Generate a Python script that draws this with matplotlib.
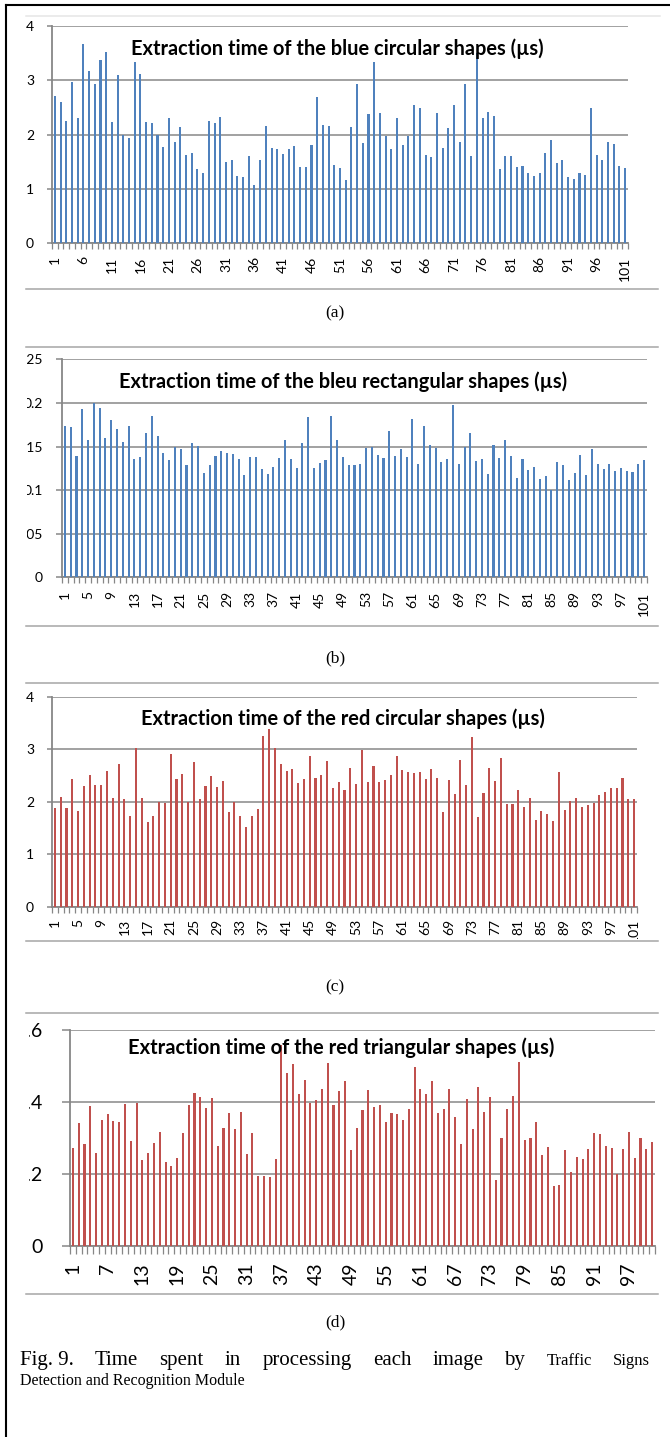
import numpy as np
import matplotlib
matplotlib.use("Agg")
import matplotlib.pyplot as plt
from matplotlib.lines import Line2D
from matplotlib.transforms import Bbox, TransformedBbox

plt.rcParams['font.family'] = ['Lato', 'DejaVu Sans']

W, H = 670, 1437

image_ids = list(range(1, 102))

blue_circular = [2.71, 2.60, 2.26, 2.96, 2.31, 3.66, 3.17, 2.93, 3.37, 3.52,
                 2.23, 3.09, 1.99, 1.93, 3.33, 3.12, 2.23, 2.21, 1.99, 1.77,
                 2.30, 1.87, 2.15, 1.63, 1.67, 1.36, 1.29, 2.25, 2.22, 2.33,
                 1.49, 1.53, 1.23, 1.22, 1.60, 1.08, 1.54, 2.16, 1.75, 1.73,
                 1.65, 1.74, 1.80, 1.41, 1.40, 1.81, 2.70, 2.18, 2.16, 1.44,
                 1.38, 1.17, 2.14, 2.93, 1.85, 2.38, 3.33, 2.40, 1.98, 1.73,
                 2.31, 1.81, 1.98, 2.54, 2.49, 1.62, 1.58, 2.40, 1.75, 2.13,
                 2.54, 1.87, 2.94, 1.61, 3.50, 2.30, 2.42, 2.34, 1.37, 1.60,
                 1.60, 1.40, 1.42, 1.29, 1.23, 1.29, 1.66, 1.90, 1.48, 1.53,
                 1.22, 1.19, 1.29, 1.26, 2.49, 1.63, 1.53, 1.87, 1.83, 1.42, 1.38]

blue_rectangular = [0.173, 0.1725, 0.139, 0.1935, 0.158, 0.200, 0.1947, 0.160, 0.180, 0.1706,
                    0.1546, 0.173, 0.136, 0.1385, 0.165, 0.1855, 0.162, 0.143, 0.135, 0.150,
                    0.147, 0.129, 0.154, 0.151, 0.120, 0.129, 0.139, 0.145, 0.143, 0.1416,
                    0.136, 0.1175, 0.1385, 0.1385, 0.1237, 0.118, 0.1267, 0.137, 0.157, 0.136,
                    0.1256, 0.154, 0.1836, 0.1256, 0.131, 0.134, 0.1855, 0.158, 0.1378, 0.129,
                    0.129, 0.1305, 0.1485, 0.150, 0.1405, 0.1366, 0.1676, 0.139, 0.147, 0.1378,
                    0.1817, 0.1305, 0.1737, 0.1515, 0.1485, 0.1317, 0.136, 0.1977, 0.1305, 0.150,
                    0.165, 0.1336, 0.136, 0.118, 0.1515, 0.1366, 0.158, 0.139, 0.1137, 0.136,
                    0.1225, 0.126, 0.1126, 0.1156, 0.0996, 0.1324, 0.129, 0.1115, 0.1195, 0.1405,
                    0.1175, 0.1477, 0.1298, 0.1237, 0.1298, 0.1214, 0.1256, 0.1214, 0.1206, 0.1305, 0.1347]

red_circular = [1.886, 2.095, 1.886, 2.427, 1.829, 2.30, 2.51, 2.31, 2.31, 2.585,
                2.065, 2.71, 2.06, 1.73, 3.02, 2.076, 1.62, 1.733, 1.994, 1.97,
                2.90, 2.427, 2.53, 2.0, 2.76, 2.057, 2.30, 2.495, 2.28, 2.39,
                1.80, 2.0, 1.73, 1.52, 1.73, 1.87, 3.25, 3.39, 3.02, 2.72,
                2.59, 2.62, 2.36, 2.43, 2.87, 2.45, 2.50, 2.77, 2.27, 2.37,
                2.23, 2.64, 2.34, 2.99, 2.37, 2.68, 2.37, 2.42, 2.51, 2.87,
                2.60, 2.57, 2.55, 2.56, 2.43, 2.62, 2.45, 1.80, 2.41, 2.15,
                2.79, 2.31, 3.24, 1.70, 2.16, 2.65, 2.40, 2.83, 1.96, 1.96,
                2.22, 1.89, 2.08, 1.66, 1.83, 1.77, 1.64, 2.57, 1.85, 2.01,
                2.08, 1.89, 1.94, 1.97, 2.13, 2.18, 2.27, 2.27, 2.45, 2.06, 2.06]

red_triangular = [0.271, 0.340, 0.283, 0.389, 0.258, 0.349, 0.365, 0.346, 0.345, 0.395,
                  0.290, 0.398, 0.238, 0.258, 0.286, 0.315, 0.233, 0.222, 0.244, 0.314,
                  0.391, 0.425, 0.413, 0.384, 0.412, 0.278, 0.327, 0.370, 0.326, 0.372,
                  0.255, 0.313, 0.194, 0.194, 0.190, 0.242, 0.558, 0.480, 0.506, 0.421,
                  0.461, 0.398, 0.405, 0.436, 0.509, 0.391, 0.430, 0.458, 0.266, 0.328,
                  0.378, 0.432, 0.386, 0.391, 0.344, 0.370, 0.365, 0.350, 0.380, 0.497,
                  0.435, 0.422, 0.457, 0.369, 0.379, 0.436, 0.357, 0.283, 0.407, 0.326,
                  0.441, 0.373, 0.414, 0.183, 0.299, 0.381, 0.416, 0.511, 0.295, 0.299,
                  0.344, 0.252, 0.275, 0.166, 0.168, 0.267, 0.205, 0.247, 0.242, 0.269,
                  0.313, 0.310, 0.277, 0.272, 0.199, 0.269, 0.315, 0.243, 0.299, 0.270, 0.288]

titles = ["Extraction time of the blue circular shapes (\u00b5s)",
          "Extraction time of the bleu rectangular shapes (\u00b5s)",
          "Extraction time of the red circular shapes (\u00b5s)",
          "Extraction time of the red triangular shapes (\u00b5s)"]

yticks_a = [0, 1, 2, 3, 4]
yticks_b = [0, 0.05, 0.1, 0.15, 0.2, 0.25]
yticks_d = [0, 0.2, 0.4, 0.6]
ylabels_a = ['0', '1', '2', '3', '4']
ylabels_b = ['0', '0.05', '0.1', '0.15', '0.2', '0.25']
ylabels_d = ['0', '0.2', '0.4', '0.6']

sub_labels = ['(a)', '(b)', '(c)', '(d)']
caption_words = ['Fig. 9.', 'Time', 'spent', 'in', 'processing', 'each', 'image', 'by', 'Traffic', 'Signs']
caption_line2 = 'Detection and Recognition Module'

BLUE = '#4F81BD'
RED = '#C0504D'
GRID = '#878787'
PT = 72 / 100  # pixels -> points

fig = plt.figure(figsize=(W / 100, H / 100), dpi=100)
renderer = fig.canvas.get_renderer()


def px_rect(left, top, right, bottom):
    return [left / W, 1 - bottom / H, (right - left) / W, (bottom - top) / H]


def hline(y, x0, x1, color, lw=1.1):
    fig.add_artist(Line2D([x0 / W, x1 / W], [1 - y / H, 1 - y / H], color=color, lw=lw))


def clip_texts(texts, x0=0, y_bottom=H):
    box = TransformedBbox(Bbox.from_extents(x0 / W, 1 - y_bottom / H, 1, 1), fig.transFigure)
    for t in texts:
        t.set_clip_box(box)
        t.set_clip_on(True)


def fit_width(t, target_px):
    w = t.get_window_extent(renderer).width
    t.set_fontsize(t.get_fontsize() * target_px / w)


def draw_panel(values, color, rect, yticks, ylabels, step, size, ytick_len, ypad, xtick_len, xpad,
               title, title_xy, title_w):
    ax = fig.add_axes(px_rect(*rect))
    ax.bar(image_ids, values, width=0.36, color=color, zorder=3)
    ax.set_xlim(0.5, 101.5)
    ax.set_ylim(yticks[0], yticks[-1])
    ax.set_yticks(yticks)
    ax.set_yticklabels(ylabels)
    ax.yaxis.grid(True, color=GRID, lw=1.1)
    ax.set_axisbelow(True)
    shown = image_ids[::step]
    ax.set_xticks(shown)
    ax.set_xticklabels([str(i) for i in shown], rotation=90)
    ax.set_xticks(np.arange(0.5, 102, 1), minor=True)
    ax.tick_params(axis='x', which='major', length=0, pad=xpad * PT, labelsize=size)
    ax.tick_params(axis='x', which='minor', length=xtick_len * PT, color=GRID, width=0.9)
    ax.tick_params(axis='y', length=ytick_len * PT, color=GRID, width=1.1, pad=ypad * PT, labelsize=size)
    for s in ['top', 'right']:
        ax.spines[s].set_visible(False)
    for s in ['left', 'bottom']:
        ax.spines[s].set_color(GRID)
        ax.spines[s].set_linewidth(1.3)
    t = fig.text(title_xy[0] / W, 1 - title_xy[1] / H, title, ha='center', va='center',
                 fontweight='bold', fontsize=12, zorder=5)
    fit_width(t, title_w)
    return ax


ax_a = draw_panel(blue_circular, BLUE, (52, 26, 628, 243.3), yticks_a, ylabels_a, 5, 10, 5, 13, 6, 13,
                  titles[0], (337, 49), 410)
ax_b = draw_panel(blue_rectangular, BLUE, (62, 359.3, 647, 577.3), yticks_b, ylabels_b, 4, 10, 6, 13, 6, 14,
                  titles[1], (343, 382), 446)
ax_c = draw_panel(red_circular, RED, (52, 696.7, 637, 906.7), yticks_a, ylabels_a, 4, 10, 5, 13, 6, 12,
                  titles[2], (342.5, 719), 401)
ax_d = draw_panel(red_triangular, RED, (70, 1030, 655, 1245.7), yticks_d, ylabels_d, 6, 14, 8, 19, 8, 17,
                  titles[3], (341.5, 1048), 423)

# the y labels of (b) and (d) are cut off at the left edge of the chart pictures
clip_texts(ax_b.get_yticklabels(), x0=27)
clip_texts(ax_d.get_yticklabels(), x0=29)
clip_texts(ax_c.get_xticklabels(), y_bottom=939)

# chart borders
hline(16, 26, 660, '#E6E6E6')
hline(289, 26, 658, '#A6A6A6')
hline(347, 26, 658, '#A6A6A6')
hline(626, 26, 658, '#A6A6A6')
hline(683, 26, 658, '#A6A6A6')
hline(941, 26, 658, '#A6A6A6')
hline(1013, 26, 658, '#A6A6A6')
hline(1294, 26, 658, '#A6A6A6')

# page frame
fig.add_artist(Line2D([6 / W, 1], [1 - 5 / H, 1 - 5 / H], color='black', lw=1.5))
fig.add_artist(Line2D([6 / W, 6 / W], [0, 1 - 5 / H], color='black', lw=1.5))

for lab, y in zip(sub_labels, [313, 658, 987, 1322]):
    fig.text(335 / W, 1 - y / H, lab, ha='center', va='center', fontsize=12.5, family='Liberation Serif')

# justified first caption line
sizes = [15] * 8 + [12] * 2
words = [fig.text(0, 1 - 1365 / H, w, fontsize=s, family='Liberation Serif', va='baseline')
         for w, s in zip(caption_words, sizes)]
widths = [t.get_window_extent(renderer).width for t in words]
gap = (650 - 20 - sum(widths)) / (len(words) - 1)
x = 20
for t, w in zip(words, widths):
    t.set_x(x / W)
    x += w + gap
fig.text(20 / W, 1 - 1385 / H, caption_line2, fontsize=11.5, family='Liberation Serif', va='baseline')

fig.savefig('out.png', dpi=100)
